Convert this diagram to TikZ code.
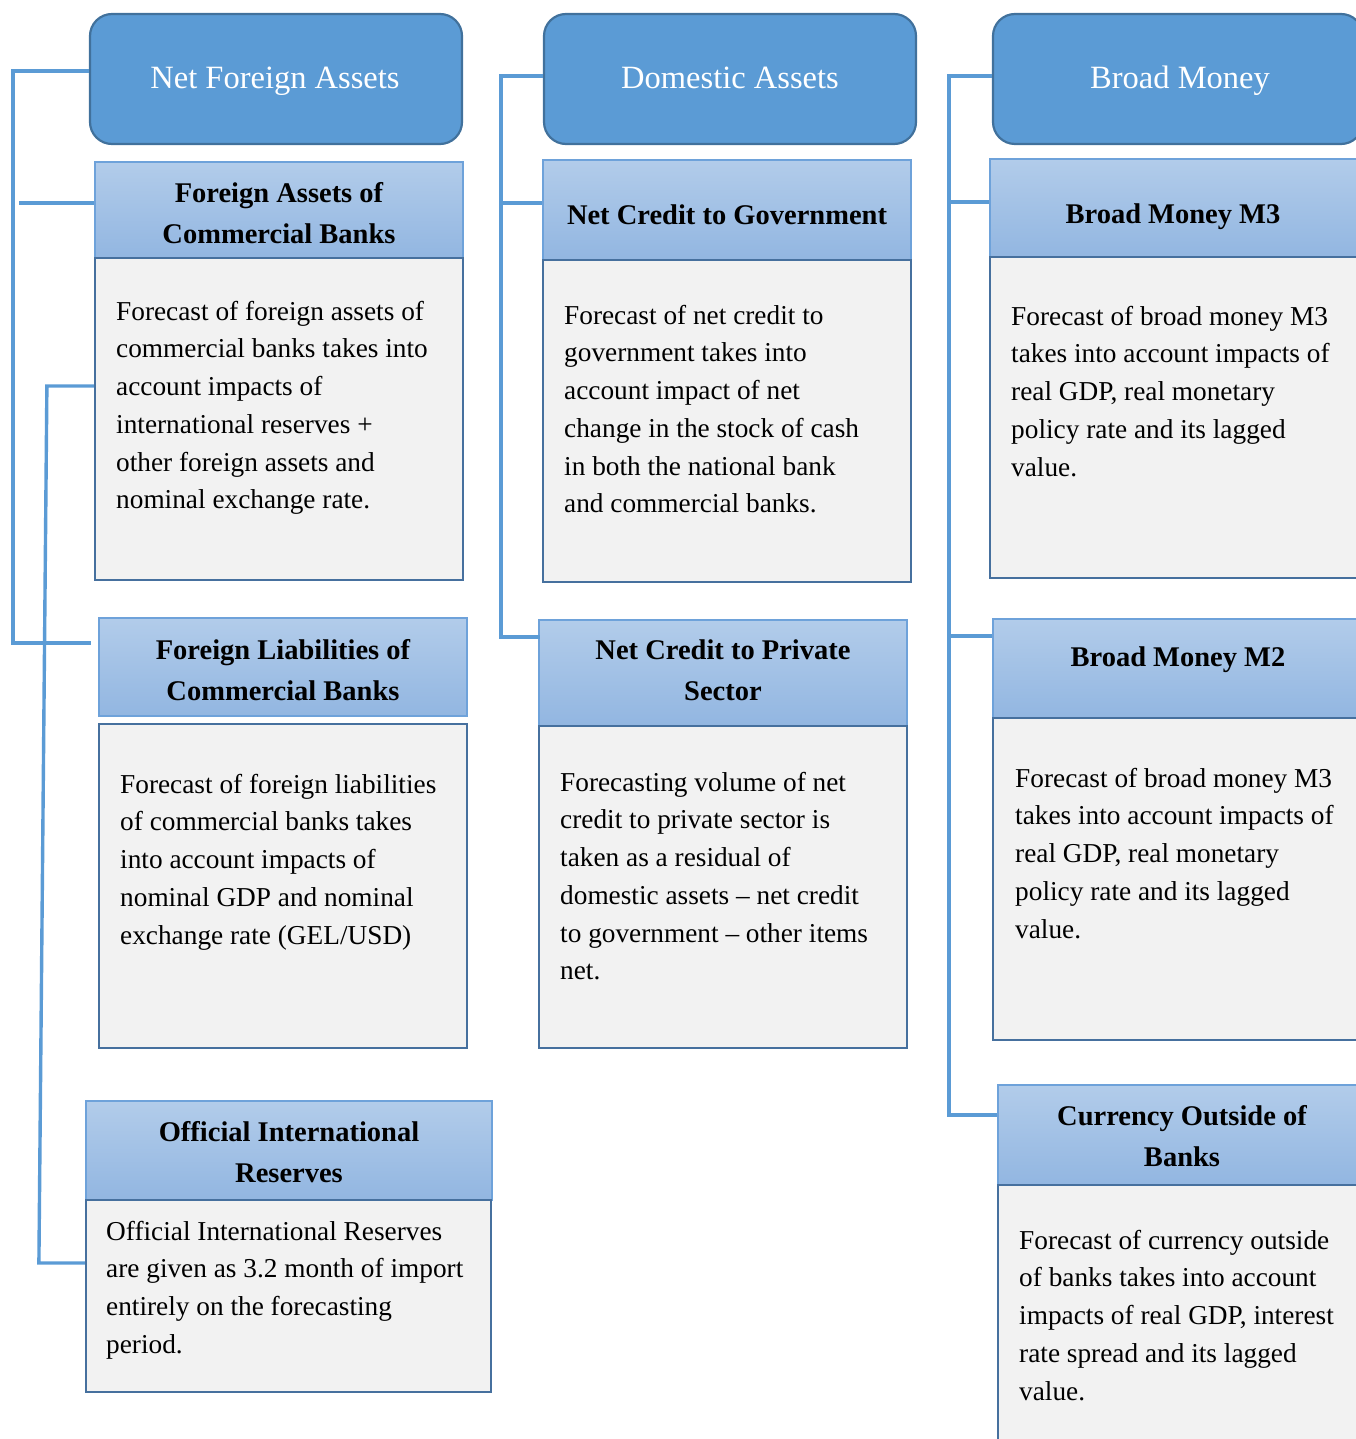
\documentclass[tikz,border=0pt]{standalone}
\usepackage{fontspec}
\setmainfont{Liberation Serif}
\usetikzlibrary{calc}
\definecolor{hdrfill}{RGB}{91,155,213}
\definecolor{hdrline}{RGB}{65,113,156}
\definecolor{ttltop}{RGB}{178,204,234}
\definecolor{ttlbot}{RGB}{146,182,225}
\definecolor{ttlline}{RGB}{110,162,218}
\definecolor{bodyfill}{RGB}{242,242,242}
\definecolor{bodyline}{RGB}{70,112,158}
\definecolor{connclr}{RGB}{91,155,213}
\tikzset{
  hdrbox/.style={draw=hdrline, line width=2.2pt, fill=hdrfill, rounded corners=22pt, inner sep=0pt, minimum height=130pt},
  hdrtext/.style={text=white, inner sep=0pt, anchor=base, font=\fontsize{32.5}{38}\selectfont},
  ttlbox/.style={draw=ttlline, line width=1.3pt, top color=ttltop, bottom color=ttlbot, inner sep=0pt},
  ttltext/.style={inner sep=0pt, anchor=north, align=center, font=\fontsize{28.5}{41}\selectfont\bfseries},
  bodybox/.style={draw=bodyline, line width=2.2pt, fill=bodyfill, inner sep=0pt},
  bodytext/.style={inner sep=0pt, anchor=north west, align=left, font=\fontsize{27.3}{37.7}\selectfont},
  conn/.style={draw=connclr, line width=3.4pt}
}
\newcommand{\tr}{\rule{0pt}{22pt}}
\newcommand{\br}{\rule{0pt}{20pt}}
\begin{document}
\begin{tikzpicture}[x=1pt,y=-1pt]
\useasboundingbox (0,0) rectangle (1356,1439);
\clip (0,0) rectangle (1356,1439);
% headers
\node[hdrbox, minimum width=372pt] (h1) at (276,79) {};
\node[hdrbox, minimum width=372pt] (h2) at (730,79) {};
\node[hdrbox, minimum width=370pt] (h3) at (1178,79) {};
\node[hdrtext] (h1t) at (275,89) {Net Foreign Assets};
\node[hdrtext] (h2t) at (730,89) {Domestic Assets};
\node[hdrtext] (h3t) at (1180,89) {Broad Money};
% title boxes
\node[ttlbox, minimum width=368pt, minimum height=96pt] (t1) at (279,210) {};
\node[ttlbox, minimum width=368pt, minimum height=98pt] (t2) at (283,667) {};
\node[ttlbox, minimum width=406pt, minimum height=99pt] (t3) at (289,1150.5) {};
\node[ttlbox, minimum width=368pt, minimum height=100pt] (t4) at (727,210) {};
\node[ttlbox, minimum width=368pt, minimum height=106pt] (t5) at (723,673) {};
\node[ttlbox, minimum width=376pt, minimum height=98pt] (t6) at (1178,208) {};
\node[ttlbox, minimum width=373pt, minimum height=99pt] (t7) at (1179.5,668.5) {};
\node[ttlbox, minimum width=368pt, minimum height=100pt] (t8) at (1182,1135) {};
% body boxes
\node[bodybox, minimum width=368pt, minimum height=322pt] (b1) at (279,419) {};
\node[bodybox, minimum width=368pt, minimum height=324pt] (b2) at (283,886) {};
\node[bodybox, minimum width=405pt, minimum height=192pt] (b3) at (288.5,1296) {};
\node[bodybox, minimum width=368pt, minimum height=322pt] (b4) at (727,421) {};
\node[bodybox, minimum width=368pt, minimum height=322pt] (b5) at (723,887) {};
\node[bodybox, minimum width=376pt, minimum height=321pt] (b6) at (1178,417.5) {};
\node[bodybox, minimum width=373pt, minimum height=322pt] (b7) at (1179.5,879) {};
\node[bodybox, minimum width=368pt, minimum height=275pt] (b8) at (1182,1322.5) {};
% title texts
\node[ttltext] (t1t) at (279,180) {\tr Foreign Assets of\\Commercial Banks};
\node[ttltext] (t2t) at (283,637) {\tr Foreign Liabilities of\\Commercial Banks};
\node[ttltext] (t3t) at (289,1119) {\tr Official International\\Reserves};
\node[ttltext] (t4t) at (727,202) {\tr Net Credit to Government};
\node[ttltext] (t5t) at (723,637) {\tr Net Credit to Private\\Sector};
\node[ttltext] (t6t) at (1173,201) {\tr Broad Money M3};
\node[ttltext] (t7t) at (1178,644) {\tr Broad Money M2};
\node[ttltext] (t8t) at (1182,1103) {\tr Currency Outside of\\Banks};
% body texts
\node[bodytext] (b1t) at (116,300) {\br Forecast of foreign assets of\\commercial banks takes into\\account impacts of\\international reserves +\\other foreign assets and\\nominal exchange rate.};
\node[bodytext] (b2t) at (120,773) {\br Forecast of foreign liabilities\\of commercial banks takes\\into account impacts of\\nominal GDP and nominal\\exchange rate (GEL/USD)};
\node[bodytext] (b3t) at (106,1220) {\br Official International Reserves\\are given as 3.2 month of import\\entirely on the forecasting\\period.};
\node[bodytext] (b4t) at (564,304) {\br Forecast of net credit to\\government takes into\\account impact of net\\change in the stock of cash\\in both the national bank\\and commercial banks.};
\node[bodytext] (b5t) at (560,771) {\br Forecasting volume of net\\credit to private sector is\\taken as a residual of\\domestic assets -- net credit\\to government -- other items\\net.};
\node[bodytext] (b6t) at (1011,305) {\br Forecast of broad money M3\\takes into account impacts of\\real GDP, real monetary\\policy rate and its lagged\\value.};
\node[bodytext] (b7t) at (1015,767) {\br Forecast of broad money M3\\takes into account impacts of\\real GDP, real monetary\\policy rate and its lagged\\value.};
\node[bodytext] (b8t) at (1019,1229) {\br Forecast of currency outside\\of banks takes into account\\impacts of real GDP, interest\\rate spread and its lagged\\value.};
% connectors column 1
\draw[conn] ($(h1.west)+(0,-8)$) -- ++(-76,0) -- ++(0,572) -- ($(t2.west)+(-7,-24)$);
\draw[conn] ($(t1.west)+(-75,-7)$) -- ($(t1.west)+(0,-7)$);
\draw[conn] ($(b1.west)+(0,-33)$) -- ++(-47,0) -- ($(b3.west)+(-46,-33)$) -- ($(b3.west)+(0,-33)$);
% connectors column 2
\draw[conn] ($(h2.west)+(0,-3)$) -- ++(-42,0) -- ++(0,561) -- ($(t5.west)+(2,-36)$);
\draw[conn] ($(t4.west)+(-41,-7)$) -- ($(t4.west)+(0,-7)$);
% connectors column 3
\draw[conn] ($(h3.west)+(0,-3)$) -- ++(-43,0) -- ++(0,1039) -- ($(t8.west)+(0,-20)$);
\draw[conn] ($(t6.west)+(-40,-6)$) -- ($(t6.west)+(0,-6)$);
\draw[conn] ($(t7.west)+(-43,-32.5)$) -- ($(t7.west)+(0,-32.5)$);
\end{tikzpicture}
\end{document}
